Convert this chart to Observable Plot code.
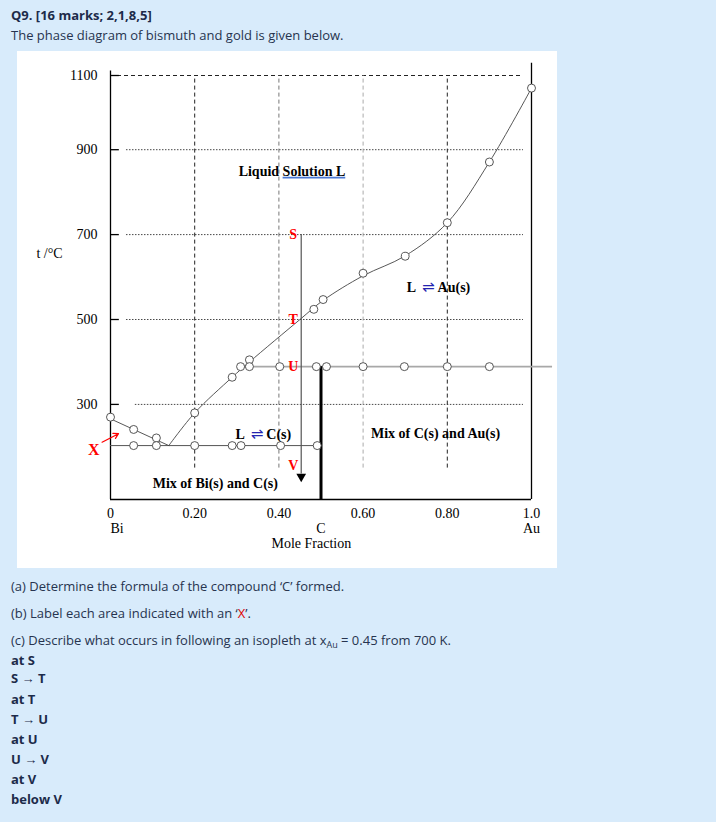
<!DOCTYPE html>
<html><head><meta charset="utf-8">
<script src="https://cdn.jsdelivr.net/npm/d3@7"></script>
<script src="https://cdn.jsdelivr.net/npm/@observablehq/plot@0.6"></script>
<style>
html,body{margin:0;padding:0;}
body{width:716px;height:822px;background:#d8ebfb;position:relative;overflow:hidden;font-family:"Open Sans",sans-serif;color:#27344f;}
.line{position:absolute;left:11px;font-size:13px;white-space:nowrap;line-height:18px;}
.b{font-weight:700;color:#1d2b4a;}
.red{color:#e00000;}
sub{font-size:9px;vertical-align:-3px;line-height:0;}
#chart{position:absolute;left:17px;top:51px;width:540px;height:517px;background:#fff;}
</style></head>
<body>
<div class="line b" style="top:6px">Q9. [16 marks; 2,1,8,5]</div>
<div class="line" style="top:26px">The phase diagram of bismuth and gold is given below.</div>
<div id="chart"></div>
<div class="line" style="top:577px">(a) Determine the formula of the compound ‘C’ formed.</div>
<div class="line" style="top:604px">(b) Label each area indicated with an ‘<span class="red">X</span>’.</div>
<div class="line" style="top:631px">(c) Describe what occurs in following an isopleth at x<sub>Au</sub> = 0.45 from 700 K.</div>
<div class="line b" style="top:651px">at S</div>
<div class="line b" style="top:669px">S → T</div>
<div class="line b" style="top:690px">at T</div>
<div class="line b" style="top:710px">T → U</div>
<div class="line b" style="top:730px">at U</div>
<div class="line b" style="top:750px">U → V</div>
<div class="line b" style="top:770px">at V</div>
<div class="line b" style="top:790px">below V</div>
<script>
// ---- data ----
const yTicks = [300, 500, 700, 900, 1100];
const yTickLabels = ["300", "500", "700", "900", "1100"];
const xTicks = [0, 0.2, 0.4, 0.6, 0.8, 1.0];
const xTickLabels = ["0", "0.20", "0.40", "0.60", "0.80", "1.0"];
const endLabels = ["Bi", "C", "Au"];
const endX = [0, 0.5, 1];

// liquidus (left branch straight, right branch smooth)
const liqLeftX = [0, 0.1385];
const liqLeftT = [266, 203];
const liqRightX = [0.1385, 0.20, 0.289, 0.33, 0.45, 0.505, 0.60, 0.70, 0.80, 0.90, 1.0];
const liqRightT = [203, 280, 364, 400, 500, 545, 603, 650, 728, 871, 1066];

// measured points (circles)
const liqPtX = [0, 0.055, 0.109, 0.20, 0.289, 0.33, 0.483, 0.505, 0.60, 0.70, 0.80, 0.90, 1.0];
const liqPtT = [270, 241, 221, 280, 364, 405, 524, 547, 609, 649, 728, 871, 1066];
const eutecticT = 203;
const eutPtX = [0.055, 0.109, 0.20, 0.289, 0.31, 0.404, 0.491];
const peritecticT = 389;
const perPtX = [0.309, 0.330, 0.402, 0.489, 0.513, 0.60, 0.698, 0.80, 0.90];
const perLineX = [0.309, 1.05];

const compoundX = 0.5;
const isoplethX = 0.453;
const isoStartT = 700;
const isoEndT = 136;
const isoArrowT = 130;
const isoLabels = ["S", "T", "U", "V"];
const isoLabelT = [700, 500, 389, 155];

const regionLabels = ["Liquid Solution L", "L ⇌ Au(s)", "L ⇌ C(s)", "Mix of Bi(s) and C(s)", "Mix of C(s) and Au(s)"];
const regionX = [0.431, 0.779, 0.363, 0.249, 0.772];
const regionT = [849, 576, 229, 113, 231];

const xMarkLabel = ["X"];
const xMarkX = [-0.04];
const xMarkT = [192];
const xArrow = [{x1: -0.02, y1: 211, x2: 0.019, y2: 231}];

const tBottom = 76;

// ---- build ----
const liqLeft = liqLeftX.map((x, i) => ({x, t: liqLeftT[i]}));
const liqRight = liqRightX.map((x, i) => ({x, t: liqRightT[i]}));
const pts = [
  ...liqPtX.map((x, i) => ({x, t: liqPtT[i]})),
  ...eutPtX.map(x => ({x, t: eutecticT})),
  ...perPtX.map(x => ({x, t: peritecticT}))
];
const regions = regionLabels.map((label, i) => ({label, x: regionX[i], t: regionT[i]}));
const isoL = isoLabels.map((label, i) => ({label, t: isoLabelT[i]}));

const serif = "'Liberation Serif', 'DejaVu Serif', serif";
const chart = Plot.plot({
  width: 540, height: 517,
  marginLeft: 93, marginRight: 26, marginTop: 24, marginBottom: 69,
  x: {domain: [0, 1]},
  y: {type: "linear", domain: [tBottom, 900, 1100], range: [448, 98.2, 24]},
  style: {fontFamily: serif, fontSize: "14px", background: "white", color: "black", overflow: "visible"},
  marks: [
    // horizontal dotted grid
    Plot.ruleY(yTicks.filter(d => d < 1100), {x1: d => d === 300 ? 0.059 : 0.038, x2: 0.981, stroke: "#333", strokeWidth: 0.9, strokeDasharray: "1.5,1.5"}),
    Plot.ruleY([1100], {x1: 0, x2: 0.981, stroke: "#222", strokeDasharray: "4,3"}),
    // vertical dashed grid
    Plot.ruleX([0.2, 0.8], {y1: 150, y2: 1100, stroke: "#222", strokeDasharray: "4,3"}),
    Plot.ruleX([0.4], {y1: 150, y2: 1100, stroke: "#777", strokeDasharray: "4,3"}),
    Plot.ruleX([0.6], {y1: 150, y2: 1100, stroke: "#aaa", strokeDasharray: "4,3"}),
    // frame axes
    Plot.ruleX([0], {y1: tBottom, y2: 1112, stroke: "black", strokeWidth: 1.3}),
    Plot.ruleX([1], {y1: tBottom, y2: 1133, stroke: "black", strokeWidth: 1.3}),
    Plot.ruleY([tBottom], {x1: 0, x2: 1, stroke: "black", strokeWidth: 1.3}),
    Plot.ruleY(yTicks, {x1: 0, x2: 0.021, stroke: "black", strokeWidth: 1.3}),
    Plot.axisY(yTicks, {tickSize: 0, tickPadding: 13, tickFormat: (d, i) => yTickLabels[i], fontSize: 14, label: null}),
    Plot.axisX(xTicks, {tickSize: 0, tickPadding: 9, tickFormat: (d, i) => xTickLabels[i], fontSize: 14, label: null}),
    Plot.text(endLabels.slice(0, 1), {x: endX.slice(0, 1), frameAnchor: "bottom", dy: 33, textAnchor: "start", fontSize: 14}),
    Plot.text(endLabels.slice(1), {x: endX.slice(1), frameAnchor: "bottom", dy: 33, fontSize: 14}),
    Plot.text(["Mole Fraction"], {x: [0.477], frameAnchor: "bottom", dy: 48, fontSize: 14}),
    Plot.text(["t /°C"], {y: [656], frameAnchor: "left", textAnchor: "middle", dx: -61, fontSize: 14}),
    // phase boundaries
    Plot.ruleY([eutecticT], {x1: 0, x2: compoundX, stroke: "#555", strokeWidth: 1}),
    Plot.ruleY([peritecticT], {x1: perLineX[0], x2: perLineX[1], stroke: "#a8a8a8", strokeWidth: 1.8}),
    Plot.line(liqLeft, {x: "x", y: "t", stroke: "#444", strokeWidth: 0.9}),
    Plot.line(liqRight, {x: "x", y: "t", stroke: "#444", strokeWidth: 0.9, curve: "catmull-rom"}),
    Plot.ruleX([compoundX], {y1: tBottom, y2: peritecticT, stroke: "black", strokeWidth: 3}),
    // isopleth
    Plot.ruleX([isoplethX], {y1: isoEndT, y2: isoStartT, stroke: "#555", strokeWidth: 1.2}),
    Plot.dot([isoArrowT], {x: isoplethX, y: d => d, symbol: "triangle", rotate: 180, r: 3.6, fill: "black", stroke: "none"}),
    // data circles
    Plot.dot(pts, {x: "x", y: "t", r: 4, stroke: "#444", fill: "white", strokeWidth: 0.9}),
    // labels
    Plot.text(isoL, {x: isoplethX, y: "t", text: "label", dx: -8, fill: "#f00", fontWeight: "bold", fontSize: 14}),
    Plot.text(regions, {x: "x", y: "t", text: "label", fontWeight: "bold", fontSize: 14}),
    Plot.text(xMarkLabel, {x: xMarkX, y: xMarkT, fill: "#f00", fontWeight: "bold", fontSize: 16}),
    Plot.arrow(xArrow, {x1: "x1", y1: "y1", x2: "x2", y2: "y2", stroke: "#f00", strokeWidth: 1.2, headLength: 7})
  ]
});
document.getElementById("chart").append(chart);

// decorate: blue equilibrium arrows, blue underline
const ns = "http://www.w3.org/2000/svg";
for (const t of chart.querySelectorAll("text")) {
  const s = t.textContent;
  if (s.includes("⇌") && t.children.length === 0) {
    const [a, b] = s.split("⇌");
    t.textContent = "";
    const parts = [[a.trim(), null, 0], ["⇌", "#2424b0", 6], [b.trim(), null, 3]];
    for (const [str, col, dx] of parts) {
      const ts = document.createElementNS(ns, "tspan");
      ts.textContent = str;
      if (dx) ts.setAttribute("dx", dx);
      if (col) {
        ts.setAttribute("fill", col);
        ts.setAttribute("font-family", "'DejaVu Sans', sans-serif");
        ts.setAttribute("font-size", "15");
        ts.setAttribute("font-weight", "normal");
      }
      t.append(ts);
    }
  }
  if (s === "Liquid Solution L") {
    const i0 = s.indexOf("Solution");
    const p0 = t.getStartPositionOfChar(i0);
    const p1 = t.getEndPositionOfChar(s.length - 1);
    const ln = document.createElementNS(ns, "line");
    ln.setAttribute("x1", p0.x); ln.setAttribute("x2", p1.x);
    ln.setAttribute("y1", p0.y + 1.8); ln.setAttribute("y2", p0.y + 1.8);
    ln.setAttribute("stroke", "#4a78d4"); ln.setAttribute("stroke-width", "1.6");
    if (t.getAttribute("transform")) ln.setAttribute("transform", t.getAttribute("transform"));
    t.parentNode.append(ln);
  }
}
</script>
</body></html>
